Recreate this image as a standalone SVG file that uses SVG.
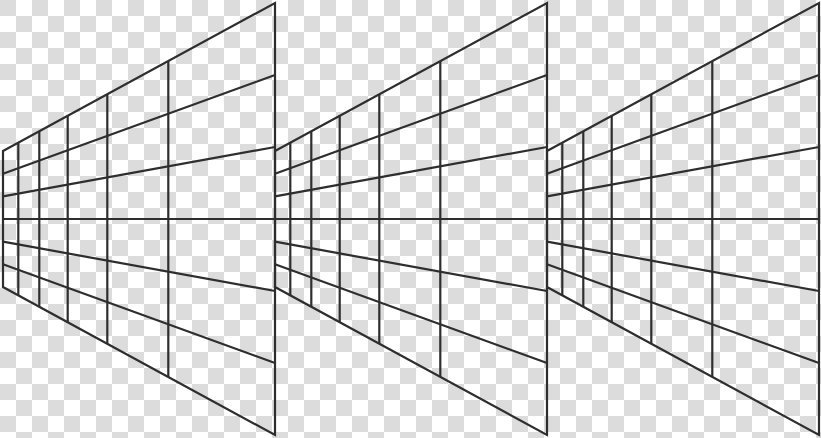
<svg xmlns="http://www.w3.org/2000/svg" xmlns:xlink="http://www.w3.org/1999/xlink" width="821" height="438" viewBox="0 0 821 438">
  <style>
    .ln { fill: none; stroke: #2e2e2e; stroke-width: 2.2; stroke-linejoin: miter; stroke-linecap: butt; }
  </style>
  <defs>
    <pattern id="chk" width="32" height="32" patternUnits="userSpaceOnUse">
      <rect width="32" height="32" fill="#ffffff"/>
      <rect width="16" height="16" fill="#dcdcdc"/>
      <rect x="16" y="16" width="16" height="16" fill="#dcdcdc"/>
    </pattern>
    <g id="grid">
      <path class="ln" d="M3,151 L275,3 L275,435 L3,287 Z"/>
      <path class="ln" d="M3,173.67 L275,75 M3,196.33 L275,147 M3,219 L275,219 M3,241.67 L275,291 M3,264.33 L275,363"/>
      <path class="ln" d="M18.3,142.7 V295.3 M39.3,131.2 V306.8 M67.7,115.8 V322.2 M107.3,94.2 V343.8 M168.3,61 V377"/>
    </g>
  </defs>
  <rect width="821" height="438" fill="url(#chk)"/>
  <g id="grid-1"><use xlink:href="#grid" href="#grid"/></g>
  <g id="grid-2"><use xlink:href="#grid" href="#grid" transform="translate(272,0)"/></g>
  <g id="grid-3"><use xlink:href="#grid" href="#grid" transform="translate(544,0)"/></g>
</svg>
